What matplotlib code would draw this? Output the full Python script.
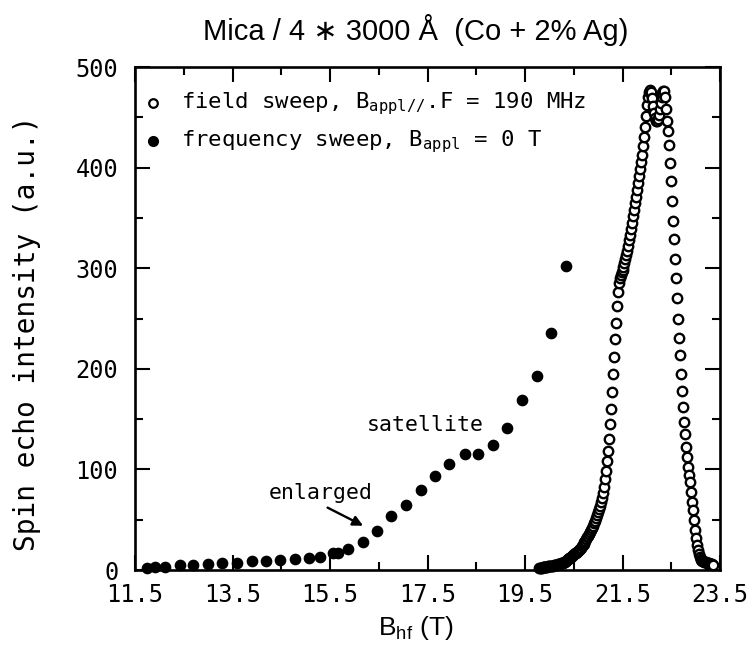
import matplotlib
matplotlib.use("Agg")
import matplotlib.pyplot as plt
from matplotlib.ticker import FixedLocator, MultipleLocator

# Frequency sweep, B_appl = 0 T (filled circles)
freq_B = [11.74, 11.91, 12.12, 12.42, 12.69, 13.00, 13.28, 13.59, 13.90, 14.19,
          14.47, 14.78, 15.07, 15.29, 15.56, 15.66, 15.87, 16.18, 16.46, 16.75,
          17.06, 17.37, 17.65, 17.94, 18.27, 18.54, 18.84, 19.13, 19.44, 19.75,
          20.03, 20.34]
freq_I = [2, 3, 3, 5, 5, 6, 7, 7, 9, 9,
          10, 11, 12, 13, 17, 17, 21, 28, 39, 54,
          65, 80, 93, 105, 115, 115, 124, 141, 169, 193,
          236, 302]

# Field sweep at F = 190 MHz (open circles)
field_B = [19.78, 19.80, 19.82, 19.84, 19.86, 19.88, 19.90, 19.92, 19.94, 19.96,
           19.98, 20.00, 20.02, 20.04, 20.06, 20.08, 20.10, 20.12, 20.14, 20.16,
           20.18, 20.20, 20.22, 20.24, 20.26, 20.28, 20.30, 20.32, 20.34, 20.36,
           20.38, 20.40, 20.42, 20.44, 20.46, 20.48, 20.50, 20.52, 20.54, 20.56,
           20.58, 20.60, 20.62, 20.64, 20.66, 20.68, 20.70, 20.72, 20.74, 20.76,
           20.78, 20.80, 20.82, 20.84, 20.86, 20.88, 20.90, 20.92, 20.94, 20.96,
           20.98, 21.00, 21.02, 21.04, 21.06, 21.08, 21.10, 21.12, 21.14, 21.16,
           21.18, 21.20, 21.22, 21.24, 21.26, 21.28, 21.30, 21.32, 21.34, 21.36,
           21.38, 21.40, 21.42, 21.44, 21.46, 21.48, 21.50, 21.52, 21.54, 21.56,
           21.58, 21.60, 21.62, 21.64, 21.66, 21.68, 21.70, 21.72, 21.74, 21.76,
           21.78, 21.80, 21.82, 21.84, 21.86, 21.88, 21.90, 21.92, 21.94, 21.96,
           21.98, 22.00, 22.02, 22.04, 22.06, 22.08, 22.10, 22.12, 22.14, 22.16,
           22.18, 22.20, 22.22, 22.24, 22.26, 22.28, 22.30, 22.32, 22.34, 22.36,
           22.38, 22.40, 22.42, 22.44, 22.46, 22.48, 22.50, 22.52, 22.54, 22.56,
           22.58, 22.60, 22.62, 22.64, 22.66, 22.68, 22.70, 22.72, 22.74, 22.76,
           22.78, 22.80, 22.82, 22.84, 22.86, 22.88, 22.90, 22.92, 22.94, 22.96,
           22.98, 23.00, 23.02, 23.04, 23.06, 23.08, 23.10, 23.12, 23.14, 23.16,
           23.18, 23.20, 23.22, 23.24, 23.26, 23.28, 23.30, 23.32, 23.34, 23.36]
field_I = [2, 2, 2, 2, 3, 3, 3, 3, 3, 3,
           4, 4, 4, 4, 4, 4, 5, 5, 5, 5,
           6, 6, 6, 7, 7, 7, 8, 8, 9, 10,
           11, 12, 12, 13, 14, 15, 16, 17, 17, 18,
           19, 20, 21, 22, 24, 25, 26, 28, 29, 31,
           33, 34, 36, 38, 40, 42, 44, 47, 49, 52,
           55, 58, 61, 64, 68, 72, 77, 83, 90, 98,
           108, 118, 130, 145, 160, 177, 195, 212, 230, 246,
           262, 276, 285, 290, 293, 296, 298, 301, 305, 309,
           313, 317, 322, 328, 333, 339, 345, 352, 358, 365,
           371, 378, 385, 392, 399, 406, 413, 421, 430, 440,
           451, 462, 470, 475, 477, 475, 469, 461, 454, 449,
           446, 446, 448, 452, 458, 464, 470, 474, 476, 476,
           470, 458, 446, 436, 422, 405, 387, 367, 347, 329,
           309, 290, 270, 250, 231, 214, 195, 178, 162, 147,
           135, 122, 112, 102, 94, 87, 78, 68, 60, 50,
           40, 32, 25, 20, 16, 13, 11, 10, 9, 9,
           8, 8, 8, 7, 7, 7, 6, 6, 6, 5]

x_major = [11.5, 13.5, 15.5, 17.5, 19.5, 21.5, 23.5]
x_minor = [12.5, 14.5, 16.5, 18.5, 20.5, 22.5]
x_ticklabels = ["11.5", "13.5", "15.5", "17.5", "19.5", "21.5", "23.5"]

title_text = "Mica / 4 \u2217 3000 \u00c5  (Co + 2% Ag)"
ylabel_text = "Spin echo intensity (a.u.)"
legend_field = r"field sweep, B$_{\mathregular{appl}//}$.F = 190 MHz"
legend_freq = r"frequency sweep, B$_{\mathregular{appl}}$ = 0 T"

mono = "DejaVu Sans Mono"
sans = ["Liberation Sans", "DejaVu Sans"]

plt.rcParams["font.family"] = [mono, "DejaVu Sans"]
plt.rcParams["mathtext.fontset"] = "custom"
plt.rcParams["mathtext.rm"] = mono

W, H = 752, 662
fig = plt.figure(figsize=(W / 100, H / 100), dpi=100)
ax = fig.add_axes([135 / W, 1 - 570 / H, 585 / W, 503 / H])

ax.plot(field_B, field_I, linestyle="none", marker="o", mfc="white", mec="black",
        ms=6.8, mew=1.7, zorder=3, clip_on=False)
ax.plot(freq_B, freq_I, linestyle="none", marker="o", color="black",
        ms=7.4, zorder=4, clip_on=False)

ax.set_xlim(11.5, 23.5)
ax.set_ylim(0, 500)

ax.xaxis.set_major_locator(FixedLocator(x_major))
ax.xaxis.set_minor_locator(FixedLocator(x_minor))
ax.set_xticklabels(x_ticklabels)
ax.yaxis.set_major_locator(MultipleLocator(100))
ax.yaxis.set_minor_locator(MultipleLocator(50))

ax.tick_params(which="both", direction="in", top=True, right=True, width=1.5,
               labelsize=17)
ax.tick_params(which="major", length=11)
ax.tick_params(which="minor", length=6)
ax.tick_params(axis="x", pad=9)
ax.tick_params(axis="y", pad=12)
for s in ax.spines.values():
    s.set_linewidth(1.9)

# legend drawn by hand inside the frame
ax.plot([11.87], [464], linestyle="none", marker="o", mfc="white", mec="black",
        ms=6.2, mew=1.6)
ax.plot([11.87], [426], linestyle="none", marker="o", color="black", ms=7.0)
ax.text(12.45, 464, legend_field, fontsize=16, va="center", ha="left")
ax.text(12.45, 426, legend_freq, fontsize=16, va="center", ha="left")

# annotations
ax.text(17.45, 144, "satellite", fontsize=15.5, ha="center", va="center")
ax.text(15.30, 77, "enlarged", fontsize=15.5, ha="center", va="center")
ax.annotate("", xy=(16.18, 44), xytext=(15.45, 62),
            arrowprops=dict(arrowstyle="-|>", lw=1.7, color="black",
                            mutation_scale=15, shrinkA=0, shrinkB=0))

fig.text(416 / W, 1 - 30 / H, title_text, fontsize=21, ha="center",
         va="center", family=sans)
fig.text(27 / W, 1 - 333 / H, ylabel_text, fontsize=20, rotation=90,
         ha="center", va="center")
fig.text(416 / W, 1 - 628 / H, r"B$_{\mathregular{hf}}$ (T)", fontsize=19,
         ha="center", va="center", family=sans)

fig.savefig("out.png", dpi=100)
